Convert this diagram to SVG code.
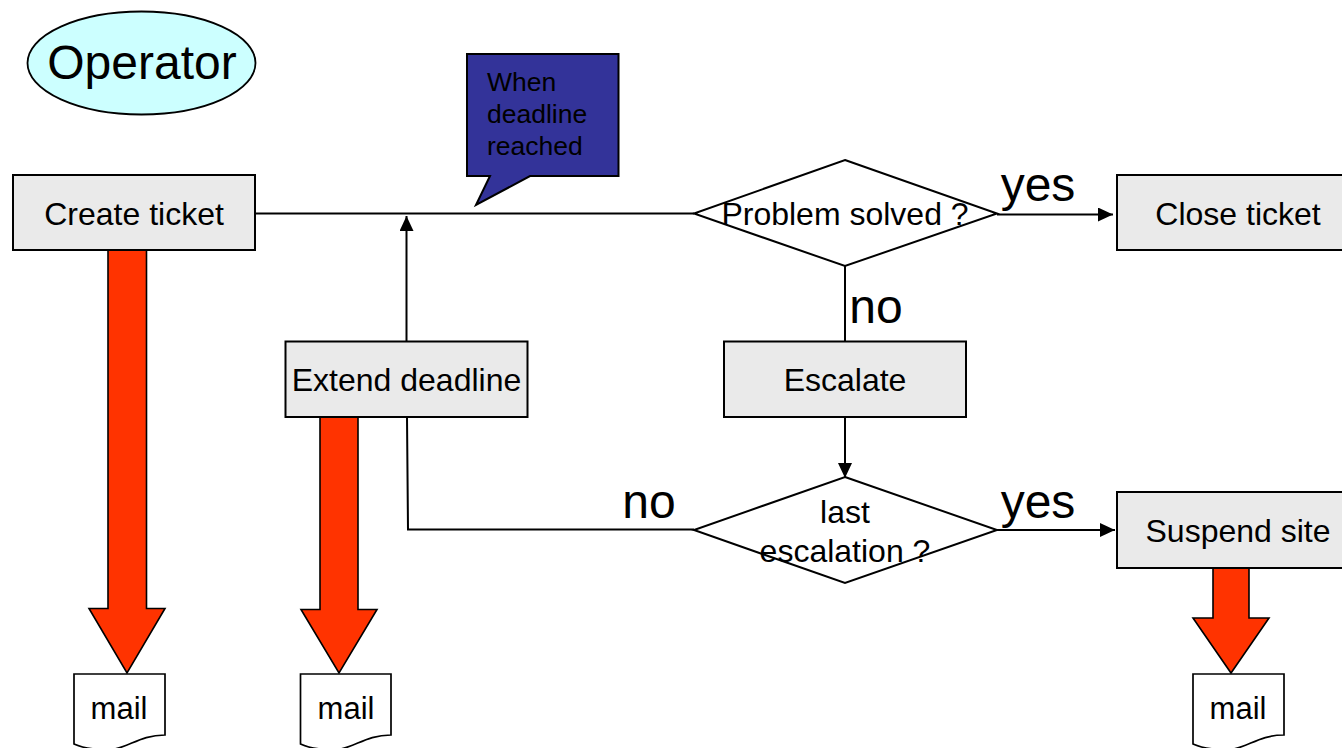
<svg xmlns="http://www.w3.org/2000/svg" width="1342" height="748" viewBox="0 0 1342 748">
<style>
text{font-family:"Liberation Sans",Arial,sans-serif;fill:#000;text-anchor:middle}
.box{fill:#eaeaea;stroke:#000;stroke-width:2}
.dia{fill:#fff;stroke:#000;stroke-width:2}
.big{fill:#ff3300;stroke:#000;stroke-width:1.600;stroke-linejoin:miter}
.doc{fill:#fff;stroke:#000;stroke-width:1.700}
.line{fill:none;stroke:#000;stroke-width:2}
.t{font-size:32px}
.l{font-size:48px}
.m{font-size:31px}
</style>
<defs>
<marker id="ah" markerUnits="userSpaceOnUse" markerWidth="16" markerHeight="14" refX="15" refY="7" orient="auto"><path d="M0 0L15 7L0 14Z" fill="#000"/></marker>
</defs>
<rect width="1342" height="748" fill="#fff"/>
<g id="connectors">
<path class="line" d="M255 213.500H694"/>
<path class="line" d="M406.500 341V216" marker-end="url(#ah)"/>
<path class="line" d="M997 214.500H1113" marker-end="url(#ah)"/>
<path class="line" d="M845 266V341"/>
<path class="line" d="M845 417V478" marker-end="url(#ah)"/>
<path class="line" d="M407 417L408 529.500H694"/>
<path class="line" d="M997 530H1115" marker-end="url(#ah)"/>
<path id="arrow1" class="big" d="M108 250H146.500V608.500H165L127 673L89 608.500H108Z"/>
<path id="arrow2" class="big" d="M320 417H358V609.500H377L339 673L301 609.500H320Z"/>
<path id="arrow3" class="big" d="M1213 568H1249V618H1269L1231 673L1193 618H1213Z"/>
</g>
<g id="operator"><ellipse cx="141.500" cy="63" rx="114" ry="51.500" fill="#ccffff" stroke="#000" stroke-width="1.800"/><text x="142" y="79" style="font-size:48px">Operator</text></g>
<g id="note"><path d="M467 54H618.500V176H530L476 205L490 176H467Z" fill="#333399" stroke="#000" stroke-width="2"/>
<g style="font-size:26.500px"><text x="487" y="91" style="text-anchor:start">When</text><text x="487" y="123" style="text-anchor:start">deadline</text><text x="487" y="155" style="text-anchor:start">reached</text></g></g>
<g id="create-ticket"><rect class="box" x="13" y="175" width="242" height="75"/><text class="t" x="134" y="225">Create ticket</text></g>
<g id="problem-solved"><path class="dia" d="M845 160L997 213.500L845 266L694 213.500Z"/><text class="t" x="845" y="225">Problem solved ?</text></g>
<text class="l" x="1038" y="201">yes</text>
<g id="close-ticket"><rect class="box" x="1117" y="175" width="240" height="75"/><text class="t" x="1238" y="225">Close ticket</text></g>
<text class="l" x="876" y="323">no</text>
<g id="extend-deadline"><rect class="box" x="285.500" y="341.500" width="242" height="75.500"/><text class="t" x="406.500" y="391">Extend deadline</text></g>
<g id="escalate"><rect class="box" x="724" y="341.500" width="242" height="75.500"/><text class="t" x="845" y="391">Escalate</text></g>
<text class="l" x="649" y="518">no</text>
<g id="last-escalation"><path class="dia" d="M845 477L997 530L845 583L694 530Z"/><text class="t" x="845" y="523">last</text><text class="t" x="845" y="562">escalation ?</text></g>
<text class="l" x="1038" y="518">yes</text>
<g id="suspend-site"><rect class="box" x="1117" y="492" width="240" height="76"/><text class="t" x="1238" y="542">Suspend site</text></g>
<g id="mail1"><path class="doc" d="M74 674H165V735C140 735 130 747 112 749.500C98 750 85 749 74 744Z"/><text class="m" x="119" y="719">mail</text></g>
<g id="mail2"><path class="doc" d="M300.500 674H391V735C366 735 356 747 338 749.500C324 750 311 749 300.500 744Z"/><text class="m" x="346" y="719">mail</text></g>
<g id="mail3"><path class="doc" d="M1193 674H1284V735C1259 735 1249 747 1231 749.500C1217 750 1204 749 1193 744Z"/><text class="m" x="1238" y="719">mail</text></g>
</svg>
